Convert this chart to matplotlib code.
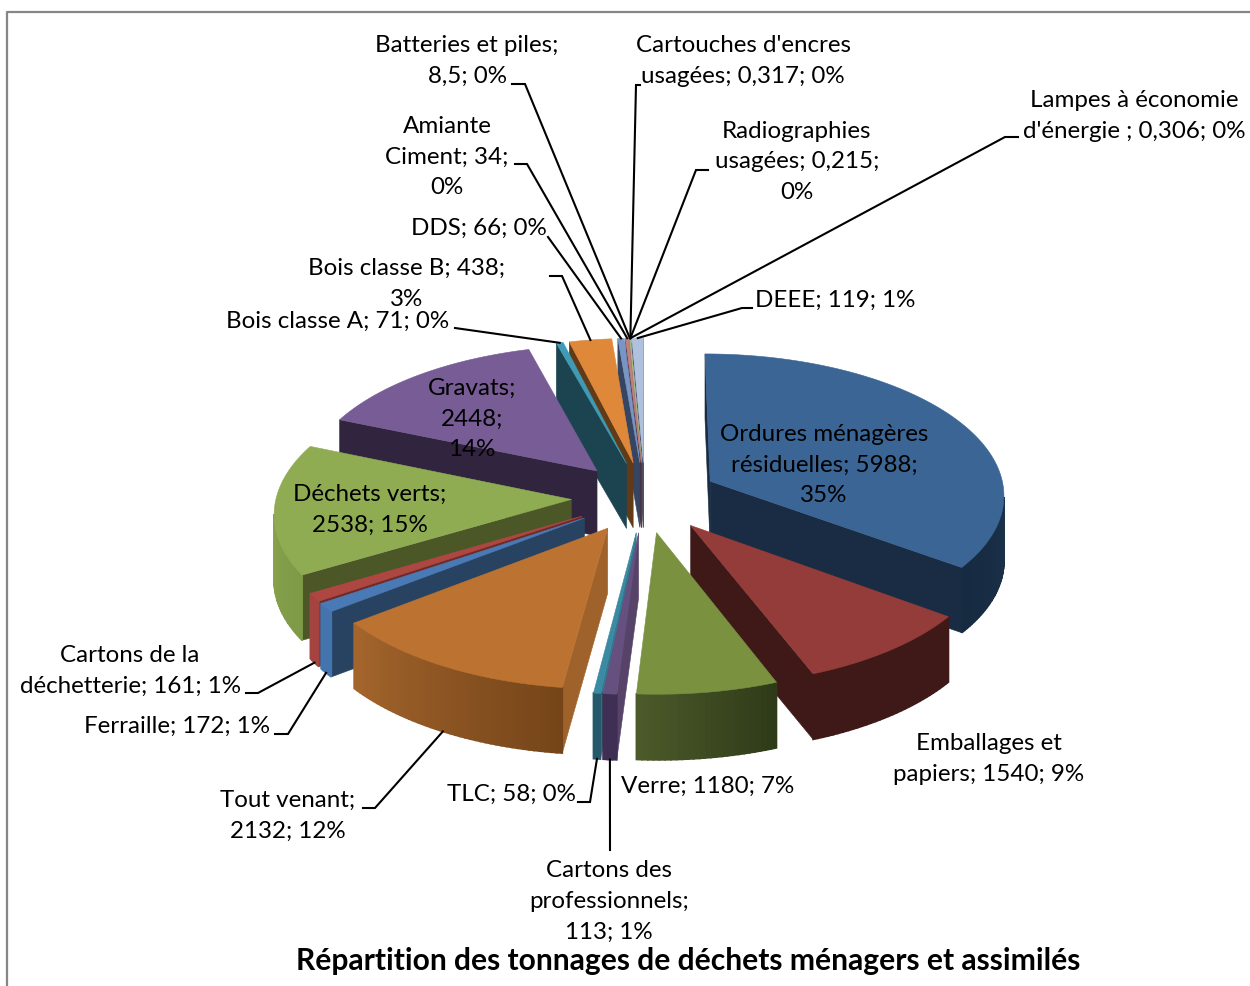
"""
plot.py - exploded 3D pie of household waste tonnage, projected by hand onto a 2D axes.
"""
import numpy as np
import matplotlib
matplotlib.use("Agg")
import matplotlib.pyplot as plt
from matplotlib.colors import to_rgb

plt.rcParams["font.family"] = ["Lato", "DejaVu Sans"]

# ---------------------------------------------------------------------------
# Data (clockwise from 12 o'clock)
# ---------------------------------------------------------------------------
values = [5988, 1540, 1180, 113, 58, 2132, 172, 161, 2538, 2448, 71, 438,
          66, 34, 8.5, 0.317, 0.215, 0.306, 119]

labels = [
    "Ordures ménagères\nrésiduelles; 5988;\n35%",
    "Emballages et\npapiers; 1540; 9%",
    "Verre; 1180; 7%",
    "Cartons des\nprofessionnels;\n113; 1%",
    "TLC; 58; 0%",
    "Tout venant;\n2132; 12%",
    "Ferraille; 172; 1%",
    "Cartons de la\ndéchetterie; 161; 1%",
    "Déchets verts;\n2538; 15%",
    "Gravats;\n2448;\n14%",
    "Bois classe A; 71; 0%",
    "Bois classe B; 438;\n3%",
    "DDS; 66; 0%",
    "Amiante\nCiment; 34;\n0%",
    "Batteries et piles;\n8,5; 0%",
    "Cartouches d'encres\nusagées; 0,317; 0%",
    "Radiographies\nusagées; 0,215;\n0%",
    "Lampes à économie\nd'énergie ; 0,306; 0%",
    "DEEE; 119; 1%",
]

title = "Répartition des tonnages de déchets ménagers et assimilés"

# ---------------------------------------------------------------------------
# Styles: top face, radial wall, rim at slice start, rim at slice end
# ---------------------------------------------------------------------------
top_colors = ["#3A6594", "#943C3A", "#7A9140", "#65507F", "#3A8AA3", "#BC7230",
              "#4A7AB5", "#AE4642", "#90AC53", "#775C95", "#3F9BB5", "#E0883A",
              "#7896C4", "#C0807E", "#A9BF80", "#9A8BB0", "#80B8C8", "#E0A070",
              "#AFC1DC"]
wall_colors = ["#192C43", "#3F1917", "#3F4E22", "#574268", "#317A90", "#A0622B",
               "#284262", "#6E2A28", "#4C5728", "#30243E", "#1C4450", "#613B17",
               "#364561", "#4A3040", "#4A5A38", "#403850", "#305060", "#604030",
               "#4A5570"]
rim_start = ["#2A4A6E", "#3F1917", "#2F3A18", "#3F2F55", "#24596A", "#754519",
             "#4474AE", "#A54340", "#7F9A47", "#5A4672", "#2F7F95", "#B06C2C",
             "#6A88B5", "#A87070", "#8FA56A", "#85769A", "#6AA0B0", "#C88858",
             "#9DB0CC"]
rim_end = ["#162A40", "#3F1917", "#4D5B2A", "#3F2F55", "#24596A", "#A5662D",
           "#4474AE", "#A54340", "#90AC53", "#5A4672", "#2F7F95", "#B06C2C",
           "#6A88B5", "#A87070", "#8FA56A", "#85769A", "#6AA0B0", "#C88858",
           "#9DB0CC"]

# Label centres in pixels
label_pos = [
    (824, 465), (989, 759), (708, 786), (609, 901), (511, 794), (288, 816),
    (177, 726), (130, 671), (370, 510), (472, 419), (338, 321), (407, 284),
    (479, 228), (447, 157), (467, 61), (743, 61), (797, 162), (1134, 116),
    (835, 300),
]

# Leader line elbows in pixels (None = label sits on its slice), text end first
leader_elbows = [
    None, None, None,
    [(610, 850)],
    [(578, 802), (590, 802)],
    [(363, 808), (375, 808)],
    [(275, 734), (288, 734)],
    [(246, 693), (258, 693)],
    None, None,
    [(455, 328)],
    [(550, 276), (562, 276)],
    [(548, 237)],
    [(515, 164), (527, 164)],
    [(512, 84), (525, 84)],
    [(640, 85), (636, 85)],
    [(708, 170), (696, 170)],
    [(1018, 137), (1005, 137)],
    [(752, 308), (742, 308)],
]

# ---------------------------------------------------------------------------
# Projection
# ---------------------------------------------------------------------------
CX, CY = 645, 497      # pie centre on screen
SX, SY = 295, 141      # pixels per radius
PERSP = 0.087          # back of the pie shrinks
EXPLODE = 0.25         # slice offset in radii
DEPTH = 65             # extrusion in pixels


def project(x, y, drop=0.0):
    s = 1.0 / (1.0 + PERSP * y)
    return CX + SX * x * s, CY - SY * y * s + drop * (0.92 + 0.08 * s)


def mix(c0, c1, t):
    a, b = np.array(to_rgb(c0)), np.array(to_rgb(c1))
    return tuple(a + (b - a) * t)


fig = plt.figure(figsize=(12.5, 9.86), dpi=100)
ax = fig.add_axes([0, 0, 1, 1])
ax.set_xlim(0, 1250)
ax.set_ylim(986, 0)
ax.axis("off")

# Chart frame, cut off by the right and bottom of the picture
ax.plot([7, 7, 1260], [1000, 12, 12], color="#868686", lw=1.6, zorder=0)

total = sum(values)
edges = np.concatenate([[0], np.cumsum(values)]) / total * 2 * np.pi
mids = (edges[:-1] + edges[1:]) / 2
anchors = []


def face(pts, color, z, lw=0.4):
    xs, ys = zip(*pts)
    ax.fill(xs, ys, facecolor=color, edgecolor=color, lw=lw, zorder=z)


# Back slices first so the front ones paint over them
order = sorted(range(len(values)), key=lambda i: -np.cos(mids[i]))
for z, i in enumerate(order, start=1):
    a0, a1 = edges[i], edges[i + 1]
    ox, oy = EXPLODE * np.sin(mids[i]), EXPLODE * np.cos(mids[i])
    n = max(2, int(np.degrees(a1 - a0)) + 2)
    arc = np.linspace(a0, a1, n)
    rim = [(ox + np.sin(a), oy + np.cos(a)) for a in arc]

    top = [project(ox, oy)] + [project(*p) for p in rim]
    bottom = [project(ox, oy, DEPTH)] + [project(*p, DEPTH) for p in rim]

    # A side face shows only where the clockwise outline runs leftwards
    k = len(top)
    for j in range(k):
        j2 = (j + 1) % k
        if top[j2][0] < top[j][0]:
            if j == 0 or j2 == 0:
                face([top[j], top[j2], bottom[j2], bottom[j]], wall_colors[i], z)
            else:
                color = mix(rim_start[i], rim_end[i], (j - 1) / max(1, k - 2))
                # wider edge closes the antialiasing seams between rim strips
                face([top[j], top[j2], bottom[j2], bottom[j]], color, z, lw=1.2)
    face(top, top_colors[i], z)

    # Leader anchor: rim midpoint, on the lower edge for the front of the pie
    mid_pt = (ox + np.sin(mids[i]), oy + np.cos(mids[i]))
    anchors.append(project(*mid_pt, DEPTH if np.cos(mids[i]) < 0 else 0))

# anchors were filled in drawing order, put them back in data order
anchors = [anchors[order.index(i)] for i in range(len(values))]

for i, elbow in enumerate(leader_elbows):
    if elbow is None:
        continue
    pts = elbow + [anchors[i]]
    ax.plot(*zip(*pts), color="black", lw=1.5, zorder=50, solid_joinstyle="miter")

for text, (x, y) in zip(labels, label_pos):
    ax.text(x, y, text, ha="center", va="center", fontsize=17.4,
            linespacing=1.58, color="black", zorder=60)

ax.text(688, 961, title, ha="center", va="center", fontsize=21.6,
        fontweight="bold", color="black", zorder=60)

fig.savefig("out.png", dpi=100)
